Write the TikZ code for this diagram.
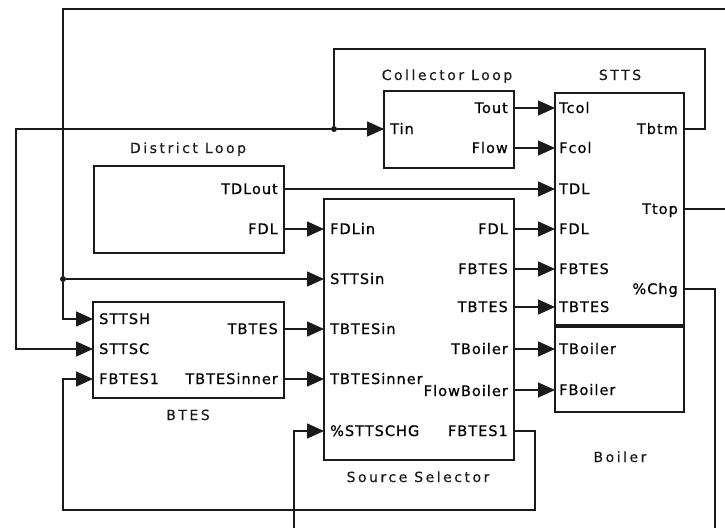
\documentclass[tikz,border=0pt]{standalone}
\usepackage{fontspec}
\setmainfont{DejaVu Sans}
\newfontfamily\portfont{DejaVu Sans}[LetterSpace=7,FakeBold=0.6]
\newfontfamily\titlefont{DejaVu Sans}[LetterSpace=18,FakeBold=0.3]
\usetikzlibrary{arrows.meta}
\definecolor{ink}{HTML}{1A1A1A}
\tikzset{
  blk/.style={draw=ink, line width=1.5pt, fill=none, inner sep=0pt, outer sep=0pt, anchor=north west},
  wire/.style={draw=ink, line width=1.5pt},
  arr/.style={wire, -{Triangle[length=17pt,width=15pt]}},
  pin/.style={inner sep=0pt, font=\portfont\fontsize{14.5}{16}\selectfont, text=black},
  inport/.style={pin, anchor=base west},
  outport/.style={pin, anchor=base east},
  ttl/.style={inner sep=0pt, anchor=base, font=\titlefont\fontsize{14}{16}\selectfont, text=ink},
  jdot/.style={circle, fill=ink, inner sep=0pt, minimum size=6pt}
}
\begin{document}
\begin{tikzpicture}[x=1pt,y=-1pt]
\fill[white] (0,0) rectangle (725,528);
\useasboundingbox (0,0) rectangle (725,528);

% blocks
\node[blk, minimum width=130pt, minimum height=77pt] (cl) at (384,91) {};
\node[blk, minimum width=129pt, minimum height=232pt] (stts) at (555,93) {};
\node[blk, minimum width=190pt, minimum height=87pt] (dl) at (94,166) {};
\node[blk, minimum width=190pt, minimum height=261pt] (ss) at (324,199) {};
\node[blk, minimum width=191pt, minimum height=96pt] (btes) at (93,302) {};
\node[blk, minimum width=129pt, minimum height=85pt] (boil) at (555,327) {};

% titles
\node[ttl] (t-cl) at (447,80) {Collector Loop};
\node[ttl] (t-stts) at (620,80) {STTS};
\node[ttl] (t-dl) at (188,153) {District Loop};
\node[ttl] (t-btes) at (188,420) {BTES};
\node[ttl] (t-ss) at (418,482) {Source Selector};
\node[ttl] (t-boil) at (620,462) {Boiler};

% port labels: Collector Loop
\node[inport] (l-tin) at (390,134) {Tin};
\node[outport] (l-tout) at (508,113) {Tout};
\node[outport] (l-flow) at (508,153) {Flow};
% STTS
\node[inport] (l-tcol) at (559,113) {Tcol};
\node[inport] (l-fcol) at (559,153) {Fcol};
\node[inport] (l-tdl) at (559,194) {TDL};
\node[inport] (l-fdl2) at (559,234) {FDL};
\node[inport] (l-fbtes2) at (559,274) {FBTES};
\node[inport] (l-tbtes2) at (559,312) {TBTES};
\node[outport] (l-tbtm) at (678,134) {Tbtm};
\node[outport] (l-ttop) at (678,214) {Ttop};
\node[outport] (l-chg) at (678,294) {\%Chg};
% District Loop
\node[outport] (l-tdlout) at (278,194) {TDLout};
\node[outport] (l-fdl0) at (278,234) {FDL};
% Source Selector
\node[inport] (l-fdlin) at (330,234) {FDLin};
\node[inport] (l-sttsin) at (330,284) {STTSin};
\node[inport] (l-tbtesin) at (330,334) {TBTESin};
\node[inport] (l-tbtesinner2) at (330,384) {TBTESinner};
\node[inport] (l-pct) at (330,436) {\%STTSCHG};
\node[outport] (l-fdl1) at (508,234) {FDL};
\node[outport] (l-fbtes1) at (508,274) {FBTES};
\node[outport] (l-tbtes1) at (508,312) {TBTES};
\node[outport] (l-tboil1) at (508,354) {TBoiler};
\node[outport] (l-flowb) at (508,396) {FlowBoiler};
\node[outport] (l-fbtes1o) at (508,436) {FBTES1};
% BTES
\node[inport] (l-sttsh) at (99,324) {STTSH};
\node[inport] (l-sttsc) at (99,354) {STTSC};
\node[inport] (l-fbtes1i) at (99,384) {FBTES1};
\node[outport] (l-tbtes0) at (278,334) {TBTES};
\node[outport] (l-tbtesinner0) at (278,384) {TBTESinner};
% Boiler
\node[inport] (l-tboil2) at (559,354) {TBoiler};
\node[inport] (l-fboil) at (559,395) {FBoiler};

% port coordinates
\coordinate (cl-tin) at (384,129);
\coordinate (cl-tout) at (514,108);
\coordinate (cl-flow) at (514,148);
\coordinate (stts-tcol) at (555,108);
\coordinate (stts-fcol) at (555,148);
\coordinate (stts-tdl) at (555,189);
\coordinate (stts-fdl) at (555,229);
\coordinate (stts-fbtes) at (555,269);
\coordinate (stts-tbtes) at (555,307);
\coordinate (stts-tbtm) at (684,129);
\coordinate (stts-ttop) at (684,209);
\coordinate (stts-chg) at (684,289);
\coordinate (dl-tdlout) at (284,189);
\coordinate (dl-fdl) at (284,229);
\coordinate (ss-fdlin) at (324,229);
\coordinate (ss-sttsin) at (324,279);
\coordinate (ss-tbtesin) at (324,329);
\coordinate (ss-tbtesinner) at (324,379);
\coordinate (ss-pct) at (324,431);
\coordinate (ss-fdl) at (514,229);
\coordinate (ss-fbtes) at (514,269);
\coordinate (ss-tbtes) at (514,307);
\coordinate (ss-tboil) at (514,349);
\coordinate (ss-flowb) at (514,390);
\coordinate (ss-fbtes1) at (514,431);
\coordinate (btes-sttsh) at (93,319);
\coordinate (btes-sttsc) at (93,349);
\coordinate (btes-fbtes1) at (93,379);
\coordinate (btes-tbtes) at (284,329);
\coordinate (btes-tbtesinner) at (284,379);
\coordinate (boil-tboil) at (555,349);
\coordinate (boil-fboil) at (555,390);
\coordinate (ext-top) at (725,9);
\coordinate (ext-ttop) at (725,209);
\coordinate (ext-chg) at (715,528);
\coordinate (ext-pct) at (294,528);

% junctions
\node[jdot] (j1) at (334,129) {};
\node[jdot] (j2) at (63,279) {};

% connectors
\draw[wire] (ext-top) -| (j2);
\draw[arr] (j2) -- (ss-sttsin);
\draw[arr] (j2) |- (btes-sttsh);
\draw[wire] (stts-tbtm) -| (705,49) -| (j1);
\draw[arr] (j1) -- (cl-tin);
\draw[arr] (j1) -- (16,129) |- (btes-sttsc);
\draw[arr] (cl-tout) -- (stts-tcol);
\draw[arr] (cl-flow) -- (stts-fcol);
\draw[arr] (dl-tdlout) -- (stts-tdl);
\draw[arr] (dl-fdl) -- (ss-fdlin);
\draw[arr] (ss-fdl) -- (stts-fdl);
\draw[arr] (ss-fbtes) -- (stts-fbtes);
\draw[arr] (ss-tbtes) -- (stts-tbtes);
\draw[arr] (ss-tboil) -- (boil-tboil);
\draw[arr] (ss-flowb) -- (boil-fboil);
\draw[arr] (btes-tbtes) -- (ss-tbtesin);
\draw[arr] (btes-tbtesinner) -- (ss-tbtesinner);
\draw[arr] (ss-fbtes1) -| (535,510) -| (63,379) -- (btes-fbtes1);
\draw[wire] (stts-chg) -| (ext-chg);
\draw[arr] (ext-pct) |- (ss-pct);
\draw[wire] (stts-ttop) -- (ext-ttop);
\end{tikzpicture}
\end{document}
